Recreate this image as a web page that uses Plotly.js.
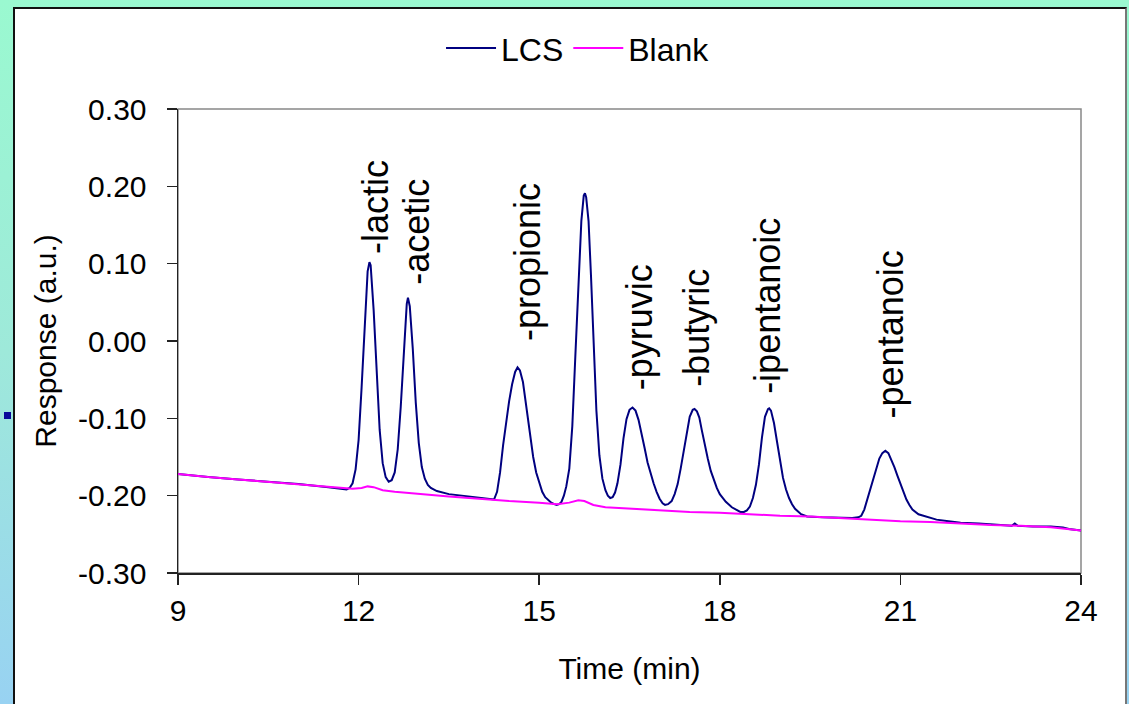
<!DOCTYPE html>
<html>
<head>
<meta charset="utf-8">
<script src="https://cdn.plot.ly/plotly-3.0.1.min.js"></script>
<style>
  html, body { margin: 0; padding: 0; }
  body { width: 1129px; height: 704px; overflow: hidden; position: relative;
         background: linear-gradient(to bottom, #9AF9D0 0%, #9EE9DA 50%, #98D2F2 100%); }
  #frame { position: absolute; left: 13px; top: 7px; width: 1110px; height: 720px;
           background: #ffffff; border: 2px solid #111; border-right-color: #777; }
  #bullet { position: absolute; left: 4px; top: 412px; width: 7px; height: 7px; background: #0a0a9a; }
  #chart { position: absolute; left: 0; top: 0; width: 1129px; height: 704px; }
</style>
</head>
<body>
<div id="frame"></div>
<div id="bullet"></div>
<div id="chart"></div>
<script>
// LCS chromatogram (time in min, response in a.u.)
const lcsTime = [
  9.0, 9.5, 10.0, 10.5, 11.0, 11.5, 11.75,
  11.80, 11.85, 11.90, 11.95, 12.00, 12.05, 12.10, 12.15, 12.18, 12.20, 12.25, 12.30, 12.35, 12.40, 12.45, 12.50,
  12.55, 12.60, 12.65, 12.70, 12.75, 12.80, 12.82, 12.85, 12.90, 12.95, 13.00, 13.05, 13.10, 13.15, 13.20,
  13.30, 13.50, 13.80, 14.00, 14.20,
  14.25, 14.30, 14.35, 14.40, 14.45, 14.50, 14.55, 14.60, 14.64, 14.68, 14.73, 14.80, 14.85, 14.90, 14.95,
  15.00, 15.05, 15.10, 15.15, 15.20, 15.25, 15.29,
  15.33, 15.37, 15.41, 15.45, 15.50, 15.55, 15.60, 15.65, 15.70, 15.74, 15.76, 15.78, 15.82, 15.86, 15.90, 15.95,
  16.00, 16.05, 16.10, 16.14, 16.18,
  16.22, 16.26, 16.30, 16.35, 16.40, 16.45, 16.50, 16.55, 16.60, 16.65, 16.70, 16.75, 16.80, 16.85, 16.90, 16.95,
  17.00, 17.05, 17.09,
  17.14, 17.20, 17.25, 17.30, 17.35, 17.40, 17.45, 17.50, 17.55, 17.58, 17.62, 17.66, 17.70, 17.75, 17.80,
  17.85, 17.90, 17.95, 18.00, 18.10, 18.20, 18.34,
  18.40, 18.45, 18.50, 18.55, 18.60, 18.65, 18.70, 18.75, 18.80, 18.82, 18.85, 18.90, 18.95, 19.00, 19.05,
  19.10, 19.15, 19.20, 19.25, 19.35, 19.45, 19.70, 20.00, 20.20,
  20.30, 20.35, 20.40, 20.45, 20.50, 20.55, 20.60, 20.65, 20.70, 20.75, 20.80, 20.85, 20.90, 20.95, 21.00,
  21.05, 21.10, 21.15, 21.20, 21.30, 21.45, 21.60, 21.80, 22.00, 22.30, 22.60, 22.85, 22.90, 22.95,
  23.20, 23.50, 23.70, 23.80, 24.00
];
const lcsResp = [
  -0.172, -0.176, -0.179, -0.182, -0.185, -0.189, -0.191,
  -0.192, -0.190, -0.184, -0.166, -0.128, -0.060, 0.025, 0.090, 0.102, 0.098, 0.040, -0.045, -0.115, -0.158, -0.176, -0.182,
  -0.180, -0.170, -0.140, -0.085, -0.010, 0.048, 0.056, 0.045, -0.010, -0.080, -0.132, -0.163, -0.178, -0.186, -0.190,
  -0.194, -0.198, -0.201, -0.203, -0.205,
  -0.205, -0.195, -0.170, -0.135, -0.105, -0.078, -0.056, -0.040, -0.034, -0.038, -0.053, -0.092, -0.122, -0.150, -0.170,
  -0.184, -0.195, -0.202, -0.206, -0.209, -0.211, -0.212,
  -0.211, -0.208, -0.200, -0.188, -0.165, -0.110, -0.020, 0.075, 0.155, 0.188, 0.191, 0.186, 0.155, 0.085, 0.000, -0.090,
  -0.148, -0.178, -0.193, -0.200, -0.203,
  -0.202, -0.196, -0.184, -0.160, -0.126, -0.101, -0.089, -0.086, -0.090, -0.102, -0.118, -0.138, -0.157, -0.172, -0.184, -0.195,
  -0.204, -0.210, -0.212,
  -0.211, -0.207, -0.198, -0.185, -0.165, -0.142, -0.117, -0.098, -0.089, -0.088, -0.091, -0.099, -0.115, -0.135, -0.152,
  -0.168, -0.180, -0.190, -0.198, -0.208, -0.215, -0.221,
  -0.221, -0.219, -0.214, -0.203, -0.186, -0.160, -0.125, -0.098, -0.088, -0.087, -0.090, -0.106, -0.130, -0.155, -0.177,
  -0.192, -0.203, -0.211, -0.217, -0.224, -0.227, -0.228, -0.229, -0.229,
  -0.228, -0.226, -0.218, -0.205, -0.191, -0.177, -0.163, -0.152, -0.145, -0.142, -0.145, -0.153, -0.163, -0.174, -0.185,
  -0.196, -0.205, -0.212, -0.218, -0.224, -0.228, -0.231, -0.233, -0.235, -0.236, -0.238, -0.239, -0.236, -0.239,
  -0.240, -0.240, -0.241, -0.243, -0.245
];

// Blank chromatogram
const blankTime = [
  9.0, 9.5, 10.0, 10.5, 11.0, 11.5, 11.9, 12.05, 12.15, 12.25, 12.4, 12.6, 13.0, 13.5, 14.0, 14.5,
  15.0, 15.3, 15.5, 15.65, 15.75, 15.9, 16.1, 16.5, 17.0, 17.5, 18.0, 18.5, 19.0, 19.5, 20.0, 20.5,
  21.0, 21.5, 22.0, 22.5, 23.0, 23.5, 24.0
];
const blankResp = [
  -0.172, -0.176, -0.179, -0.182, -0.185, -0.188, -0.191, -0.190, -0.188, -0.189, -0.193, -0.195, -0.198, -0.201, -0.204, -0.207,
  -0.209, -0.211, -0.209, -0.206, -0.207, -0.212, -0.215, -0.217, -0.219, -0.221, -0.222, -0.224, -0.226, -0.227, -0.229, -0.231,
  -0.233, -0.234, -0.236, -0.238, -0.239, -0.241, -0.245
];

// Peak labels
const peakNames = ['-lactic', '-acetic', '-propionic', '-pyruvic', '-butyric', '-ipentanoic', '-pentanoic'];
const peakLabelTime = [12.29, 12.97, 14.81, 16.66, 17.62, 18.80, 20.84];
const peakLabelResp = [0.110, 0.070, -0.003, -0.066, -0.062, -0.071, -0.103];

const xTicks = [9, 12, 15, 18, 21, 24];
const yTicks = [-0.30, -0.20, -0.10, 0.00, 0.10, 0.20, 0.30];

const FONT = 'Liberation Sans, Arial, sans-serif';

const traces = [
  { x: lcsTime, y: lcsResp, type: 'scatter', mode: 'lines', name: 'LCS',
    line: { color: '#000080', width: 2 } },
  { x: blankTime, y: blankResp, type: 'scatter', mode: 'lines', name: 'Blank',
    line: { color: '#FF00FF', width: 2 } }
];

const annotations = peakNames.map((t, i) => ({
  x: peakLabelTime[i], y: peakLabelResp[i], xref: 'x', yref: 'y',
  text: t, textangle: -90, showarrow: false, xanchor: 'center', yanchor: 'bottom',
  font: { family: FONT, size: 36, color: '#000' }
}));

const layout = {
  width: 1129, height: 704,
  paper_bgcolor: 'rgba(0,0,0,0)',
  plot_bgcolor: '#ffffff',
  margin: { l: 178, r: 48, t: 109, b: 131 },
  font: { family: FONT, size: 30, color: '#000' },
  showlegend: true,
  legend: { orientation: 'h', x: 0.443, xanchor: 'center', y: 1.131, yanchor: 'middle',
            font: { family: FONT, size: 32 }, bgcolor: 'rgba(0,0,0,0)', itemwidth: 50 },
  xaxis: {
    range: [9, 24], tickvals: xTicks, ticktext: xTicks.map(String),
    showgrid: false, zeroline: false, showline: true, linecolor: '#222', linewidth: 2,
    ticks: 'outside', ticklen: 10, tickwidth: 1.5, tickcolor: '#222',
    tickfont: { family: FONT, size: 30 },
    title: { text: 'Time (min)', font: { family: FONT, size: 30 }, standoff: 32 }
  },
  yaxis: {
    range: [-0.30, 0.30], tickvals: yTicks, ticktext: yTicks.map(v => v.toFixed(2)),
    showgrid: false, zeroline: false, showline: true, linecolor: '#222', linewidth: 1.5,
    ticks: 'outside', ticklen: 10, tickwidth: 1.5, tickcolor: '#222',
    tickfont: { family: FONT, size: 30 }, ticklabelstandoff: 14,
    title: { text: 'Response (a.u.)', font: { family: FONT, size: 30 }, standoff: 12 }
  },
  shapes: [
    { type: 'rect', xref: 'paper', yref: 'paper', x0: 0, x1: 1, y0: 0, y1: 1,
      line: { color: '#888', width: 1.5 }, layer: 'below' }
  ],
  annotations: annotations
};

Plotly.newPlot('chart', traces, layout, { displayModeBar: false, staticPlot: true });
</script>
</body>
</html>
